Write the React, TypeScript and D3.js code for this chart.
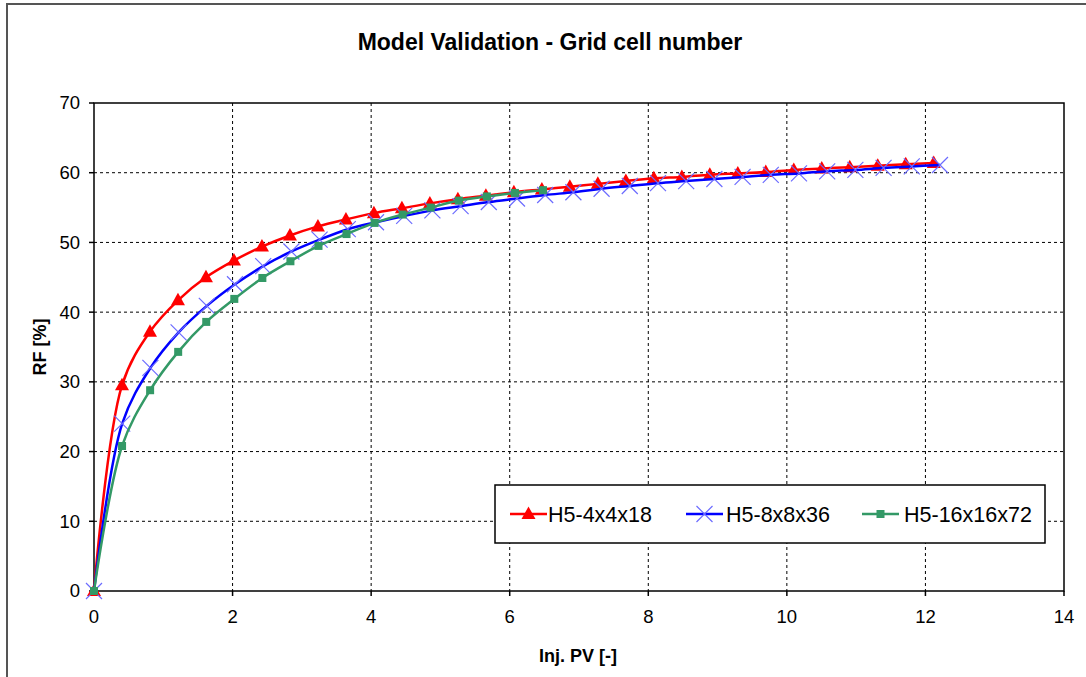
import React from "react";
import * as d3 from "d3";

const title = "Model Validation - Grid cell number";
const xTitle = "Inj. PV [-]";
const yTitle = "RF [%]";
const xTicks = [0, 2, 4, 6, 8, 10, 12, 14];
const yTicks = [0, 10, 20, 30, 40, 50, 60, 70];

const seriesNames = ["H5-4x4x18", "H5-8x8x36", "H5-16x16x72"];

const redStep = 0.404;
const redValues = [0, 29.5, 37.2, 41.7, 45.0, 47.4, 49.4, 51.0, 52.3, 53.3, 54.2, 54.9, 55.6, 56.2, 56.7, 57.2, 57.6, 58.0, 58.4, 58.8, 59.2, 59.4, 59.7, 59.9, 60.1, 60.4, 60.6, 60.8, 61.0, 61.2, 61.4];

const blueStep = 0.407;
const blueValues = [0, 24.0, 32.0, 37.1, 40.9, 44.0, 46.6, 48.7, 50.4, 51.9, 52.9, 53.8, 54.6, 55.2, 55.8, 56.3, 56.8, 57.2, 57.7, 58.1, 58.5, 58.8, 59.1, 59.4, 59.7, 59.9, 60.2, 60.4, 60.7, 60.9, 61.1];

const greenStep = 0.405;
const greenValues = [0, 20.8, 28.8, 34.3, 38.6, 41.9, 44.9, 47.3, 49.5, 51.2, 52.8, 54.0, 55.0, 56.0, 56.6, 57.1, 57.5];

type Pt = [number, number];
const toPts = (step: number, vals: number[]): Pt[] => vals.map((v, i) => [i * step, v]);

const W = 1086;
const H = 677;
const FONT = "Liberation Sans, Arial, Helvetica, sans-serif";

export default function App() {
  const x = d3.scaleLinear().domain([0, 14]).range([94, 1064]);
  const y = d3.scaleLinear().domain([0, 70]).range([591, 103]);
  const line = d3
    .line<Pt>()
    .x((d) => x(d[0]))
    .y((d) => y(d[1]))
    .curve(d3.curveCatmullRom.alpha(0.5));

  const red = toPts(redStep, redValues);
  const blue = toPts(blueStep, blueValues);
  const green = toPts(greenStep, greenValues);

  const [x0, x1] = x.range();
  const [y0, y1] = y.range();

  const tri = (cx: number, cy: number, s: number) =>
    `M${cx},${cy - s * 0.75}L${cx + s * 0.7},${cy + s * 0.5}L${cx - s * 0.7},${cy + s * 0.5}Z`;
  const cross = (cx: number, cy: number, s: number) =>
    `M${cx - s},${cy - s}L${cx + s},${cy + s}M${cx - s},${cy + s}L${cx + s},${cy - s}`;

  const redColor = "#ff0000";
  const blueColor = "#0000ff";
  const blueMarker = "#6b6bff";
  const greenColor = "#339966";

  const legendY = 514;
  const legendItems = [
    { name: seriesNames[0], lx: 510, tx: 548, kind: "tri", color: redColor },
    { name: seriesNames[1], lx: 686, tx: 726, kind: "x", color: blueColor },
    { name: seriesNames[2], lx: 862, tx: 904, kind: "sq", color: greenColor },
  ];

  return (
    <svg
      width={W}
      height={H}
      style={{ position: "absolute", left: 0, top: 0, background: "#fff" }}
      fontFamily={FONT}
    >
      <rect x={0} y={0} width={W} height={H} fill="#fff" />
      <rect x={7} y={4} width={W + 20} height={H + 20} fill="none" stroke="#555" strokeWidth={2} />

      <text x={550} y={50} textAnchor="middle" fontSize={23} fontWeight="bold" fill="#000">
        {title}
      </text>

      {/* grid */}
      {xTicks.slice(1, -1).map((t) => (
        <line key={"gx" + t} x1={x(t)} x2={x(t)} y1={y1} y2={y0} stroke="#000" strokeWidth={1} strokeDasharray="3,3" />
      ))}
      {yTicks.slice(1, -1).map((t) => (
        <line key={"gy" + t} x1={x0} x2={x1} y1={y(t)} y2={y(t)} stroke="#000" strokeWidth={1} strokeDasharray="3,3" />
      ))}

      {/* frame */}
      <rect x={x0} y={y1} width={x1 - x0} height={y0 - y1} fill="none" stroke="#000" strokeWidth={1.5} />

      {/* ticks */}
      {yTicks.map((t) => (
        <g key={"yt" + t}>
          <line x1={x0 - 5} x2={x0} y1={y(t)} y2={y(t)} stroke="#000" strokeWidth={1.5} />
          <text x={x0 - 14} y={y(t)} dy="0.35em" textAnchor="end" fontSize={18.5} fill="#000">
            {t}
          </text>
        </g>
      ))}
      {xTicks.map((t) => (
        <g key={"xt" + t}>
          <line x1={x(t)} x2={x(t)} y1={y0} y2={y0 + 5} stroke="#000" strokeWidth={1.5} />
          <text x={x(t)} y={y0 + 26} dy="0.35em" textAnchor="middle" fontSize={18.5} fill="#000">
            {t}
          </text>
        </g>
      ))}

      <text x={578} y={662} textAnchor="middle" fontSize={18} fontWeight="bold" fill="#000">
        {xTitle}
      </text>
      <text
        transform={`translate(46,347) rotate(-90)`}
        textAnchor="middle"
        fontSize={18}
        fontWeight="bold"
        fill="#000"
      >
        {yTitle}
      </text>

      {/* red series */}
      <path d={line(red) || ""} fill="none" stroke={redColor} strokeWidth={2.5} />
      {red.map((d, i) => (
        <path key={"r" + i} d={tri(x(d[0]), y(d[1]), 10)} fill={redColor} />
      ))}

      {/* blue series */}
      <path d={line(blue) || ""} fill="none" stroke={blueColor} strokeWidth={2.5} />
      {blue.map((d, i) => (
        <path key={"b" + i} d={cross(x(d[0]), y(d[1]), 8)} stroke={blueMarker} strokeWidth={1.2} fill="none" />
      ))}

      {/* green series */}
      <path d={line(green) || ""} fill="none" stroke={greenColor} strokeWidth={2.5} />
      {green.map((d, i) => (
        <rect key={"g" + i} x={x(d[0]) - 4} y={y(d[1]) - 4} width={8} height={8} fill={greenColor} />
      ))}

      {/* legend */}
      <rect x={495} y={485} width={550} height={58} fill="#fff" stroke="#000" strokeWidth={1.5} />
      {legendItems.map((it) => (
        <g key={it.name}>
          <line x1={it.lx} x2={it.lx + 37} y1={legendY} y2={legendY} stroke={it.color} strokeWidth={2.5} />
          {it.kind === "tri" && <path d={tri(it.lx + 18.5, legendY, 10)} fill={it.color} />}
          {it.kind === "x" && (
            <path d={cross(it.lx + 18.5, legendY, 8)} stroke={blueMarker} strokeWidth={1.2} fill="none" />
          )}
          {it.kind === "sq" && (
            <rect x={it.lx + 18.5 - 4} y={legendY - 4} width={8} height={8} fill={it.color} />
          )}
          <text x={it.tx} y={legendY} dy="0.35em" fontSize={21.5} fill="#000">
            {it.name}
          </text>
        </g>
      ))}
    </svg>
  );
}
